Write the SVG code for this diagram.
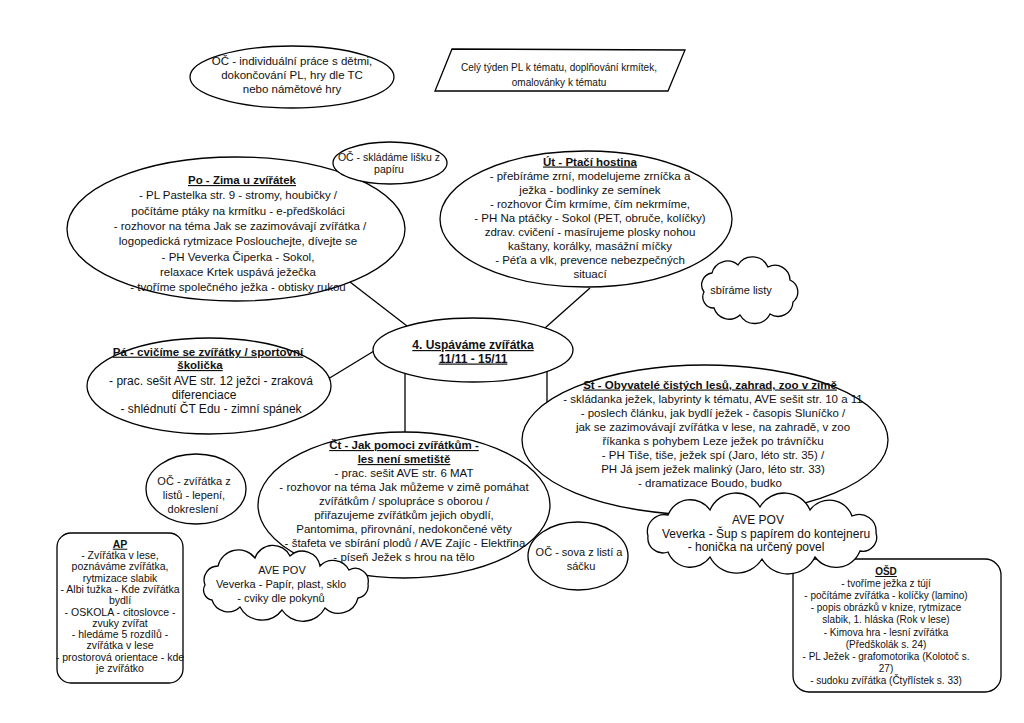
<svg xmlns="http://www.w3.org/2000/svg" width="1024" height="723" viewBox="0 0 1024 723">
<style>
.t{font-family:"Liberation Sans",Arial,sans-serif;fill:#111;text-anchor:middle}
.b{font-weight:bold;text-decoration:underline}
.s{fill:#fff;stroke:#000;stroke-width:1.3}
.c line{stroke:#000;stroke-width:1.3}
</style>
<rect width="1024" height="723" fill="#fff"/>
<g id="connectors" class="c">
<line x1="350" y1="282" x2="407" y2="326"/>
<line x1="590" y1="288" x2="545" y2="328"/>
<line x1="328" y1="379" x2="374" y2="351"/>
<line x1="405" y1="373" x2="405" y2="433"/>
<line x1="547" y1="371" x2="547" y2="402"/>
</g>
<g id="oc-top">
<ellipse class="s" cx="292" cy="77" rx="102" ry="31"/>
<g class="t" font-size="11.5">
<text x="292" y="64.7">OČ - individuální práce s dětmi,</text>
<text x="292" y="79">dokončování PL, hry dle TC</text>
<text x="292" y="93.3">nebo námětové hry</text>
</g>
</g>
<g id="week">
<polygon class="s" points="452,49 685,50 668,91 435,91"/>
<g class="t" font-size="10">
<text x="559" y="70.5">Celý týden PL k tématu, doplňování krmítek,</text>
<text x="559" y="85.5">omalovánky k tématu</text>
</g>
</g>
<g id="po">
<ellipse class="s" cx="236" cy="229" rx="169" ry="72"/>
<g class="t" font-size="11.5">
<text class="b" x="242" y="184">Po - Zima u zvířátek</text>
<text x="238" y="199.3">- PL Pastelka str. 9 - stromy, houbičky /</text>
<text x="238" y="214.6">počítáme ptáky na krmítku - e-předškoláci</text>
<text x="240" y="229.9">- rozhovor na téma Jak se zazimovávají zvířátka /</text>
<text x="238" y="245.2">logopedická rytmizace Poslouchejte, dívejte se</text>
<text x="238" y="260.5">- PH Veverka Čiperka - Sokol,</text>
<text x="238" y="275.8">relaxace Krtek uspává ježečka</text>
<text x="238" y="291.1">- tvoříme společného ježka - obtisky rukou</text>
</g>
</g>
<g id="oc-liska">
<ellipse class="s" cx="390" cy="163" rx="57" ry="21"/>
<g class="t" font-size="10.5">
<text x="389" y="160.7">OČ - skládáme lišku z</text>
<text x="389" y="173.2">papíru</text>
</g>
</g>
<g id="ut">
<ellipse class="s" cx="586" cy="219" rx="146" ry="68"/>
<g class="t" font-size="11.5">
<text class="b" x="590" y="165.5">Út - Ptačí hostina</text>
<text x="590" y="179.5">- přebíráme zrní, modelujeme zrníčka a</text>
<text x="590" y="193.5">ježka - bodlinky ze semínek</text>
<text x="590" y="207.5">- rozhovor Čím krmíme, čím nekrmíme,</text>
<text x="590" y="221.5">- PH Na ptáčky - Sokol (PET, obruče, kolíčky)</text>
<text x="590" y="235.5">zdrav. cvičení - masírujeme plosky nohou</text>
<text x="590" y="249.5">kaštany, korálky, masážní míčky</text>
<text x="590" y="263.5">- Péťa a vlk, prevence nebezpečných</text>
<text x="590" y="277.5">situací</text>
</g>
</g>
<g id="sbirame">
<path class="s" d="M704,292 A12 12 0 0 1 712,273 A16 16 0 0 1 738,265 A17 17 0 0 1 768,267 A15 15 0 0 1 790,280 A13 13 0 0 1 793,302 A15 15 0 0 1 770,314 A17 17 0 0 1 740,315 A16 16 0 0 1 714,308 A11 11 0 0 1 704,292 Z"/>
<text class="t" font-size="11" x="741" y="294">sbíráme listy</text>
</g>
<g id="center">
<ellipse class="s" cx="473" cy="350" rx="100" ry="32"/>
<g class="t b" font-size="12">
<text x="473" y="349">4. Uspáváme zvířátka</text>
<text x="473" y="362.5">11/11 - 15/11</text>
</g>
</g>
<g id="pa">
<ellipse class="s" cx="209" cy="386" rx="122" ry="48"/>
<g class="t">
<text class="b" font-size="11.5" x="208" y="355.7">Pá - cvičíme se zvířátky / sportovní</text>
<text class="b" font-size="11.5" x="200" y="369">školička</text>
<text font-size="12" x="211" y="384.9">- prac. sešit AVE str. 12 ježci - zraková</text>
<text font-size="12" x="204" y="399.2">diferenciace</text>
<text font-size="12" x="211" y="413.2">- shlédnutí ČT Edu - zimní spánek</text>
</g>
</g>
<g id="st">
<ellipse class="s" cx="705" cy="440" rx="183" ry="75"/>
<g class="t" font-size="11.5">
<text class="b" x="710" y="388.5">St - Obyvatelé čistých lesů, zahrad, zoo v zimě</text>
<text x="713" y="402.5">- skládanka ježek, labyrinty k tématu, AVE sešit str. 10 a 11</text>
<text x="713" y="416.5">- poslech článku, jak bydlí ježek - časopis Sluníčko /</text>
<text x="713" y="430.5">jak se zazimovávají zvířátka v lese, na zahradě, v zoo</text>
<text x="713" y="444.5">říkanka s pohybem Leze ježek po trávníčku</text>
<text x="713" y="458.5">- PH Tiše, tiše, ježek spí (Jaro, léto str. 35) /</text>
<text x="713" y="472.5">PH Já jsem ježek malinký (Jaro, léto str. 33)</text>
<text x="710" y="486.5">- dramatizace Boudo, budko</text>
</g>
</g>
<g id="osd">
<rect class="s" x="793" y="559" width="208" height="133" rx="16"/>
<g class="t" font-size="10">
<text class="b" x="886" y="575">OŠD</text>
<text x="886" y="587.1">- tvoříme ježka z tújí</text>
<text x="886" y="599.2">-  počítáme zvířátka - kolíčky (lamino)</text>
<text x="886" y="611.3">- popis obrázků v knize, rytmizace</text>
<text x="886" y="623.4">slabik, 1. hláska (Rok v lese)</text>
<text x="886" y="635.5">- Kimova hra - lesní zvířátka</text>
<text x="886" y="647.6">(Předškolák s. 24)</text>
<text x="886" y="659.7">- PL Ježek - grafomotorika (Kolotoč s.</text>
<text x="886" y="671.8">27)</text>
<text x="886" y="683.9">- sudoku zvířátka (Čtyřlístek s. 33)</text>
</g>
</g>
<g id="ave-pov-st">
<path class="s" d="M648,536 A17 17 0 0 1 668,515 A24 24 0 0 1 710,510 A28 28 0 0 1 760,507 A28 28 0 0 1 810,510 A24 24 0 0 1 852,516 A17 17 0 0 1 876,533 A14 14 0 0 1 860,551 A26 26 0 0 1 815,557 A30 30 0 0 1 762,559 A30 30 0 0 1 710,557 A24 24 0 0 1 668,552 A15 15 0 0 1 648,536 Z"/>
<g class="t" font-size="12">
<text x="758" y="524">AVE POV</text>
<text x="766" y="537.5">Veverka - Šup s papírem do kontejneru</text>
<text x="756" y="551">- honička na určený povel</text>
</g>
</g>
<g id="ct">
<ellipse class="s" cx="404" cy="505" rx="146" ry="73"/>
<g class="t" font-size="11.5">
<text class="b" x="404" y="449">Čt - Jak pomoci zvířátkům -</text>
<text class="b" x="404" y="463">les není smetiště</text>
<text x="404" y="477">- prac. sešit AVE str. 6 MAT</text>
<text x="404" y="491">- rozhovor na téma Jak můžeme v zimě pomáhat</text>
<text x="404" y="505">zvířátkům / spolupráce s oborou /</text>
<text x="404" y="519">přiřazujeme zvířátkům jejich obydlí,</text>
<text x="404" y="533">Pantomima, přirovnání, nedokončené věty</text>
<text x="405" y="547">- štafeta ve sbírání plodů / AVE Zajíc - Elektřina</text>
<text x="404" y="561">- píseň Ježek s hrou na tělo</text>
</g>
</g>
<g id="oc-listy">
<ellipse class="s" cx="196" cy="489" rx="50" ry="35"/>
<g class="t" font-size="11">
<text x="194" y="485">OČ - zvířátka z</text>
<text x="194" y="499">listů - lepení,</text>
<text x="193" y="513">dokreslení</text>
</g>
</g>
<g id="oc-sova">
<ellipse class="s" cx="578" cy="556" rx="50" ry="34"/>
<g class="t" font-size="11">
<text x="579" y="555.5">OČ - sova z listí a</text>
<text x="581" y="569.5">sáčku</text>
</g>
</g>
<g id="ave-pov-ct">
<path class="s" d="M205,585 A14 14 0 0 1 218,566 A21 21 0 0 1 255,558 A19 19 0 0 1 290,556 A18 18 0 0 1 320,566 A18 18 0 0 1 349,570 A13 13 0 0 1 368,584 A12 12 0 0 1 358,598 A20 20 0 0 1 325,608 A25 25 0 0 1 282,610 A25 25 0 0 1 240,607 A17 17 0 0 1 212,600 A10 10 0 0 1 205,585 Z"/>
<g class="t" font-size="11">
<text x="282" y="574">AVE POV</text>
<text x="281" y="588">Veverka - Papír, plast, sklo</text>
<text x="281" y="602">- cviky dle pokynů</text>
</g>
</g>
<g id="ap">
<rect class="s" x="57" y="533" width="126" height="150" rx="14"/>
<g class="t" font-size="10.5">
<text class="b" x="120" y="547.7">AP</text>
<text x="120" y="559">- Zvířátka v lese,</text>
<text x="120" y="570.3">poznáváme zvířátka,</text>
<text x="120" y="581.6">rytmizace slabik</text>
<text x="120" y="592.9">-  Albi tužka  - Kde zvířátka</text>
<text x="120" y="604.2">bydlí</text>
<text x="120" y="615.5">- OSKOLA - citoslovce -</text>
<text x="120" y="626.8">zvuky zvířat</text>
<text x="120" y="638.1">-  hledáme 5 rozdílů -</text>
<text x="120" y="649.4">zvířátka v lese</text>
<text x="120" y="660.7">- prostorová orientace - kde</text>
<text x="120" y="672">je zvířátko</text>
</g>
</g>
</svg>
